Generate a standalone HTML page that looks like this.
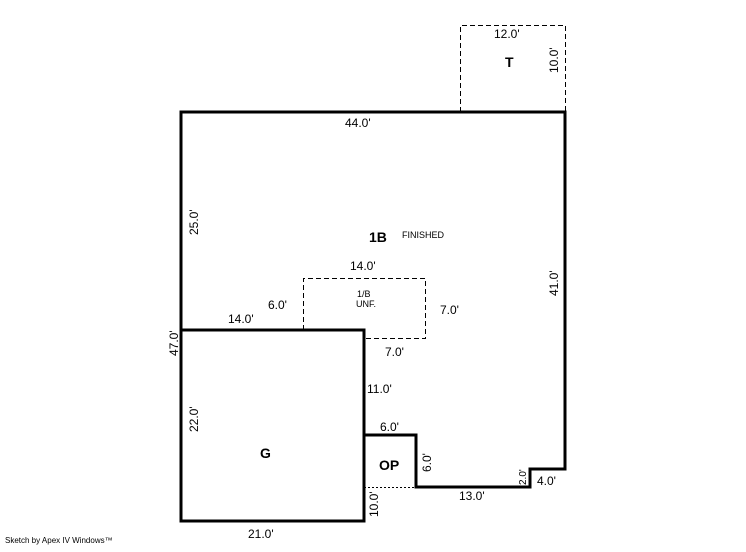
<!DOCTYPE html>
<html><head><style>
body{margin:0;background:#fff}
svg text{font-family:"Liberation Sans",sans-serif;font-size:12px;fill:#000}
</style></head><body>
<svg width="746" height="547" xmlns="http://www.w3.org/2000/svg">
<g fill="none" stroke="#000" shape-rendering="crispEdges">
<path d="M181,112 H565 V469 H530 V487 H416 V435 H364 V521 H181 Z" stroke-width="3"/>
<path d="M181,330 H364 V435" stroke-width="3"/>
<path d="M460.5,112 V25.5 H565.5 V112" stroke-width="1" stroke-dasharray="5,3"/>
<path d="M303.5,330 V278.5 H425.5 V338.5 H364" stroke-width="1" stroke-dasharray="5,3"/>
<path d="M364,487.5 H416" stroke-width="1" stroke-dasharray="2,2"/>
</g>
<text x="494" y="38">12.0'</text>
<text x="505" y="67" font-weight="bold" style="font-size:14px">T</text>
<text transform="translate(558,73) rotate(-90)">10.0'</text>
<text x="345" y="127">44.0'</text>
<text transform="translate(198,235) rotate(-90)">25.0'</text>
<text x="369" y="242" font-weight="bold" style="font-size:14px">1B</text>
<text x="402" y="238" style="font-size:9px">FINISHED</text>
<text transform="translate(558,296) rotate(-90)">41.0'</text>
<text x="350" y="270">14.0'</text>
<text x="357" y="297" style="font-size:9px">1/B</text>
<text x="356" y="307" style="font-size:9px">UNF.</text>
<text x="268" y="309">6.0'</text>
<text x="440" y="314">7.0'</text>
<text x="228" y="323">14.0'</text>
<text x="385" y="356">7.0'</text>
<text transform="translate(178,356) rotate(-90)">47.0'</text>
<text x="367" y="393">11.0'</text>
<text transform="translate(198,432) rotate(-90)">22.0'</text>
<text x="260" y="458" font-weight="bold" style="font-size:14px">G</text>
<text x="380" y="431">6.0'</text>
<text x="379" y="470" font-weight="bold" style="font-size:14px">OP</text>
<text transform="translate(431,472) rotate(-90)">6.0'</text>
<text transform="translate(526,485) rotate(-90)" style="font-size:10px">2.0'</text>
<text x="537" y="485">4.0'</text>
<text x="459" y="500">13.0'</text>
<text transform="translate(378,517) rotate(-90)">10.0'</text>
<text x="248" y="538">21.0'</text>
<text x="5" y="543" style="font-size:8px">Sketch by Apex IV Windows™</text>
</svg>
</body></html>
